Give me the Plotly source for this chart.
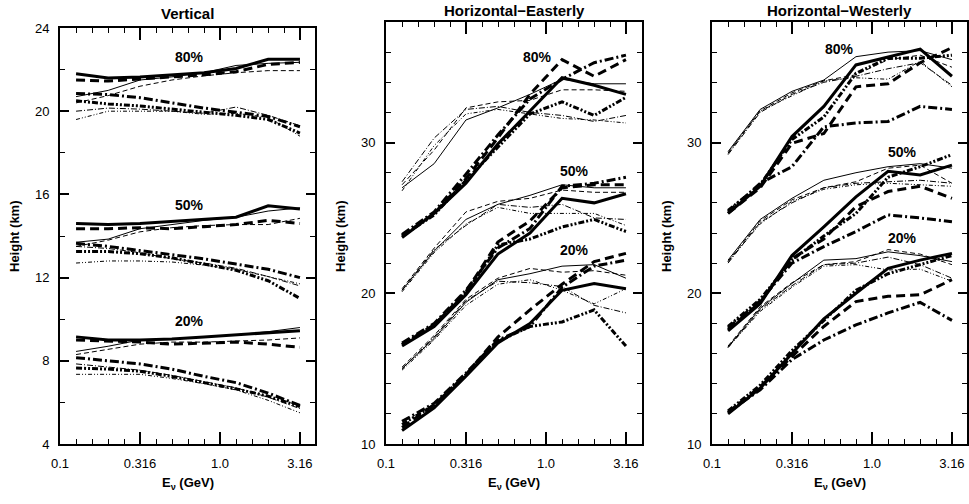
import math
import plotly.graph_objects as go

# ---------------- data ----------------
energy = [0.126, 0.2, 0.316, 0.5, 0.794, 1.26, 2.0, 3.16]
panel_titles = ["Vertical", "Horizontal\u2212Easterly", "Horizontal\u2212Westerly"]
percent_labels = ["80%", "50%", "20%"]

# series order in each group: thick solid, thick dashed, thick dash-dot, thick dash-dot-dot,
#                              thin solid, thin dashed, thin dash-dot, thin dash-dot-dot
vert_80 = [
    [21.8, 21.6, 21.65, 21.75, 21.85, 22.05, 22.5, 22.5],
    [21.5, 21.45, 21.55, 21.65, 21.75, 21.9, 22.25, 22.35],
    [20.85, 20.8, 20.65, 20.4, 20.15, 19.95, 19.75, 19.25],
    [20.5, 20.35, 20.25, 20.1, 19.95, 19.8, 19.6, 18.95],
    [20.7, 21.0, 21.5, 21.65, 21.85, 22.2, 22.3, 22.35],
    [20.4, 20.75, 21.2, 21.5, 21.7, 21.85, 21.95, 21.95],
    [20.0, 20.15, 20.1, 20.0, 19.9, 20.2, 19.8, 19.3],
    [19.6, 20.0, 20.0, 20.0, 19.85, 19.9, 19.7, 18.8],
]
vert_50 = [
    [14.6, 14.55, 14.6, 14.7, 14.8, 14.9, 15.45, 15.3],
    [14.35, 14.35, 14.4, 14.35, 14.45, 14.55, 14.75, 14.6],
    [13.65, 13.5, 13.3, 13.1, 12.9, 12.65, 12.4, 12.0],
    [13.25, 13.25, 13.15, 12.95, 12.65, 12.35, 11.85, 11.0],
    [13.7, 13.85, 14.35, 14.55, 14.75, 14.9, 15.2, 15.35],
    [13.5, 13.8, 14.2, 14.4, 14.5, 14.55, 14.55, 14.85],
    [13.5, 13.4, 13.2, 12.9, 12.7, 12.45, 12.05, 11.6],
    [12.7, 12.8, 12.8, 12.75, 12.6, 12.4, 12.05, 11.7],
]
vert_20 = [
    [9.15, 9.0, 9.0, 9.05, 9.15, 9.25, 9.35, 9.45],
    [9.0, 8.95, 8.9, 8.8, 8.85, 8.9, 8.8, 8.65],
    [8.15, 8.0, 7.85, 7.6, 7.25, 6.95, 6.45, 5.85],
    [7.65, 7.6, 7.5, 7.25, 6.95, 6.65, 6.3, 5.8],
    [8.45, 8.7, 9.0, 9.05, 9.15, 9.25, 9.4, 9.6],
    [8.3, 8.55, 8.8, 8.9, 8.9, 8.95, 9.0, 9.1],
    [7.85, 7.7, 7.55, 7.3, 7.0, 6.7, 6.25, 5.7],
    [7.35, 7.35, 7.35, 7.15, 6.9, 6.6, 6.1, 5.5],
]
east_80 = [
    [23.7, 25.3, 27.3, 29.9, 32.1, 34.3, 33.8, 33.2],
    [23.8, 25.3, 27.6, 30.3, 33.2, 35.5, 34.4, 35.5],
    [23.9, 25.4, 27.9, 30.5, 32.9, 34.2, 35.3, 35.8],
    [23.8, 25.2, 27.5, 29.7, 31.9, 32.7, 31.8, 33.0],
    [27.0, 28.6, 31.5, 32.3, 33.2, 34.2, 33.9, 33.9],
    [27.2, 29.5, 32.3, 32.7, 32.8, 33.5, 33.5, 33.4],
    [27.4, 30.3, 32.2, 32.4, 32.0, 31.8, 31.4, 31.8],
    [26.8, 29.8, 31.9, 32.2, 31.9, 31.6, 31.5, 31.3],
]
east_50 = [
    [16.5, 17.8, 19.9, 22.6, 24.0, 26.3, 26.0, 26.6],
    [16.6, 17.9, 20.1, 23.4, 24.8, 27.0, 27.2, 27.2],
    [16.7, 18.0, 20.2, 23.0, 24.3, 27.1, 27.3, 27.7],
    [16.6, 17.9, 20.0, 23.2, 23.6, 24.4, 24.9, 24.1],
    [20.2, 22.8, 24.9, 25.9, 26.5, 27.2, 27.0, 27.0],
    [20.3, 23.0, 25.4, 26.1, 26.3, 26.85, 26.7, 26.7],
    [20.2, 22.9, 24.5, 25.9, 25.7, 25.9, 25.0, 24.9],
    [20.1, 22.7, 24.6, 25.7, 25.3, 25.3, 25.3, 24.5],
]
east_20 = [
    [10.9, 12.4, 14.5, 16.7, 18.0, 20.2, 20.65, 20.3],
    [11.1, 12.6, 14.6, 17.1, 18.9, 20.6, 22.1, 22.65],
    [11.5, 12.7, 14.7, 16.9, 17.8, 20.4, 21.8, 22.2],
    [11.3, 12.6, 14.6, 16.8, 17.8, 18.1, 18.9, 16.5],
    [15.0, 17.0, 19.4, 20.9, 21.3, 21.8, 21.9, 21.0],
    [15.1, 17.2, 19.6, 21.0, 21.65, 21.4, 21.5, 21.2],
    [15.0, 17.1, 19.5, 20.8, 20.7, 20.45, 19.2, 18.7],
    [14.9, 16.9, 19.2, 20.6, 20.9, 20.2, 19.3, 20.3],
]
west_80 = [
    [25.3, 27.1, 30.4, 32.4, 35.15, 35.7, 36.2, 34.4],
    [25.3, 27.0, 29.95, 30.6, 33.7, 33.9, 35.3, 36.3],
    [25.4, 27.3, 28.4, 31.05, 31.3, 31.4, 32.4, 32.2],
    [25.5, 27.2, 30.2, 31.7, 34.6, 35.6, 35.6, 35.8],
    [29.4, 32.2, 33.4, 34.15, 35.7, 36.0, 36.1, 35.5],
    [29.3, 32.1, 33.3, 34.1, 34.5, 35.5, 35.8, 35.0],
    [29.2, 32.0, 33.2, 34.0, 34.4, 34.9, 35.3, 33.8],
    [29.3, 32.1, 33.1, 34.1, 34.3, 34.2, 35.4, 33.7],
]
west_50 = [
    [17.5, 19.3, 22.5, 24.4, 26.4, 28.1, 27.85, 28.5],
    [17.6, 19.4, 22.3, 23.6, 25.75, 26.75, 27.1, 26.3],
    [17.7, 19.5, 22.0, 23.1, 24.1, 25.2, 25.0, 24.75],
    [17.8, 19.6, 22.2, 23.8, 25.3, 27.7, 28.4, 29.2],
    [22.2, 24.9, 26.3, 27.5, 28.0, 28.4, 28.6, 28.3],
    [22.1, 24.8, 26.2, 27.0, 27.4, 28.3, 28.5, 27.3],
    [22.0, 24.7, 26.0, 27.0, 27.3, 27.4, 27.5, 27.3],
    [22.1, 24.6, 26.1, 26.9, 27.2, 27.3, 27.2, 27.1],
]
west_20 = [
    [12.0, 13.7, 16.0, 18.3, 20.0, 21.65, 22.2, 22.65],
    [12.1, 13.8, 15.8, 17.8, 19.45, 19.8, 19.9, 20.9],
    [12.1, 13.6, 15.6, 16.9, 17.9, 18.7, 19.4, 18.2],
    [12.2, 13.9, 16.2, 18.2, 20.2, 21.3, 21.9, 22.5],
    [16.45, 19.0, 20.65, 22.2, 22.3, 22.75, 22.5, 22.1],
    [16.5, 19.1, 20.7, 21.9, 22.1, 22.9, 22.6, 21.9],
    [16.4, 18.9, 20.5, 21.9, 22.0, 22.4, 21.9, 21.0],
    [16.4, 18.8, 20.4, 21.8, 21.9, 21.55, 21.6, 20.8],
]

x_tick_vals = [0.1, 0.316, 1.0, 3.16]
x_tick_text = ["0.1", "0.316", "1.0", "3.16"]
vert_y_ticks = [4, 8, 12, 16, 20, 24]
horiz_y_ticks = [10, 20, 30]

# label positions (energy, height) for percent labels in each panel
vert_label_pos = [(0.646, 22.6), (0.646, 15.5), (0.646, 9.9)]
east_label_pos = [(0.89, 35.7), (1.5, 28.1), (1.5, 22.9)]
west_label_pos = [(0.63, 36.2), (1.55, 29.4), (1.55, 23.7)]

# ---------------- styling ----------------
STYLES = [
    dict(width=3.0, dash="solid"),
    dict(width=3.0, dash="9px,5px"),
    dict(width=3.0, dash="9px,3px,2px,3px"),
    dict(width=3.0, dash="6px,2px,2px,2px,2px,2px"),
    dict(width=1.0, dash="solid"),
    dict(width=1.0, dash="5px,3px"),
    dict(width=1.0, dash="6px,2px,1px,2px"),
    dict(width=1.0, dash="4px,2px,1px,2px,1px,2px"),
]

FONT = "Liberation Sans, Arial, Helvetica, sans-serif"
W, H = 969, 504

panels = [
    ([vert_80, vert_50, vert_20], vert_label_pos, [4, 24], vert_y_ticks,
     [v for v in range(6, 24, 4)], (60, 315), 28, 13),
    ([east_80, east_50, east_20], east_label_pos, [10, 38], horiz_y_ticks,
     [v for v in range(12, 39, 2) if v not in (20, 30)], (386, 642), 22, 10),
    ([west_80, west_50, west_20], west_label_pos, [10, 38], horiz_y_ticks,
     [v for v in range(12, 39, 2) if v not in (20, 30)], (712, 967), 22, 10),
]

fig = go.Figure()
annotations = []
minor_x = [10 ** (k / 10) for k in range(-9, 6) if k not in (-5, 0, 5)]
bottom_px = 444

for i, (groups, lab_pos, yr, yticks, yminor, (xl, xr), top_px, title_px) in enumerate(panels):
    n = i + 1
    xa = "x" if n == 1 else f"x{n}"
    ya = "y" if n == 1 else f"y{n}"
    for group in groups:
        for series, st in zip(group, STYLES):
            fig.add_trace(go.Scatter(
                x=energy, y=series, mode="lines", xaxis=xa, yaxis=ya,
                line=dict(color="black", width=st["width"], dash=st["dash"]),
                showlegend=False, hoverinfo="skip"))
    for txt, (ex, hy) in zip(percent_labels, lab_pos):
        annotations.append(dict(x=math.log10(ex), y=hy, xref=xa, yref=ya, text=f"<b>{txt}</b>",
                                showarrow=False, xanchor="center", yanchor="middle",
                                font=dict(family=FONT, size=14, color="black")))
    xdom = [xl / W, xr / W]
    ydom = [(H - bottom_px) / H, (H - top_px) / H]
    axis_common = dict(showline=True, linecolor="black", linewidth=2, mirror="ticks",
                       ticks="inside", tickcolor="black", showgrid=False, zeroline=False,
                       automargin=False,
                       tickfont=dict(family=FONT, size=13, color="black"))
    fig.update_layout(**{
        ("xaxis" if n == 1 else f"xaxis{n}"): dict(
            axis_common, domain=xdom, type="log", range=[-1, -1 + (xr - xl) / 160],
            tickmode="array", tickvals=x_tick_vals, ticktext=x_tick_text,
            ticklen=12, tickwidth=1.5, ticklabelstandoff=6,
            minor=dict(tickmode="array", tickvals=minor_x, ticks="inside", ticklen=5,
                       tickwidth=1.2, tickcolor="black", showgrid=False),
            anchor=ya),
        ("yaxis" if n == 1 else f"yaxis{n}"): dict(
            axis_common, domain=ydom, range=yr, tickmode="array", tickvals=yticks,
            ticklen=9, tickwidth=1.5, ticklabelstandoff=6,
            minor=dict(tickmode="array", tickvals=yminor, ticks="inside", ticklen=5,
                       tickwidth=1.2, tickcolor="black", showgrid=False),
            anchor=xa),
    })
    cx = (xl + xr) / 2 / W
    annotations.append(dict(x=cx, y=(H - title_px) / H, xref="paper", yref="paper",
                            text=f"<b>{panel_titles[i]}</b>", showarrow=False,
                            xanchor="center", yanchor="middle",
                            font=dict(family=FONT, size=15, color="black")))
    annotations.append(dict(x=cx, y=(H - 483) / H, xref="paper", yref="paper",
                            text="<b>E<sub>\u03bd</sub> (GeV)</b>", showarrow=False,
                            xanchor="center", yanchor="middle",
                            font=dict(family=FONT, size=13, color="black")))
    annotations.append(dict(x=(xl - 46) / W, y=(H - 236) / H, xref="paper", yref="paper",
                            text="<b>Height (km)</b>", showarrow=False, textangle=-90,
                            xanchor="center", yanchor="middle",
                            font=dict(family=FONT, size=13, color="black")))

fig.update_layout(width=W, height=H, margin=dict(l=0, r=0, t=0, b=0),
                  template="none",
                  paper_bgcolor="white", plot_bgcolor="white",
                  annotations=annotations, showlegend=False)
# remove the browser's default 8px page margin so the figure sits at the window origin
fig.write_html("out.html", config={"displayModeBar": False},
               post_script="document.body.style.margin='0px';")
